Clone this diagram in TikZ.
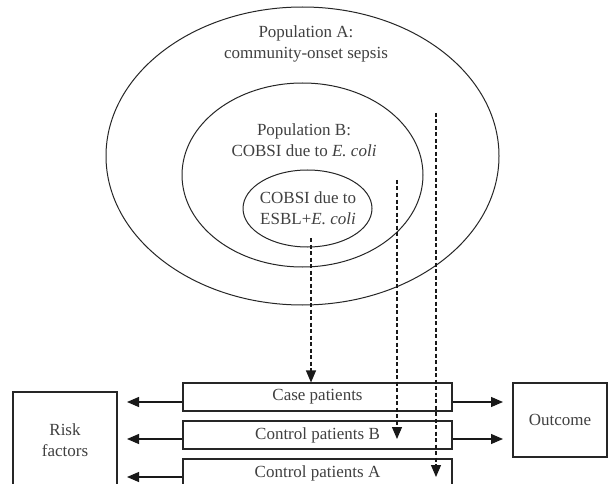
\documentclass[tikz,border=0pt]{standalone}
\usepackage{fontspec}
\setmainfont{Liberation Serif}
\usetikzlibrary{shapes.geometric,arrows.meta}
\begin{document}
\begin{tikzpicture}[x=1pt,y=-1pt,
  every node/.style={font=\fontsize{17}{21}\selectfont, text=black!75},
  ring/.style={draw=black!85, ellipse, line width=1pt, inner sep=0pt},
  boxnode/.style={draw=black!85, rectangle, line width=1.1pt, inner sep=0pt},
  solidarrow/.style={-{Triangle[length=12pt,width=10pt]}, line width=1.1pt, draw=black!90},
  dasharrow/.style={-{Triangle[length=12pt,width=10pt]}, line width=1.1pt, draw=black!90, dash pattern=on 4pt off 2.5pt}
]
\clip (0,0) rectangle (608,484);
\fill[white] (0,0) rectangle (608,484);
% populations
\node[ring, minimum width=393pt, minimum height=298pt] (popA) at (302.5,156) {};
\node[ring, minimum width=241pt, minimum height=184pt] (popB) at (302.5,175) {};
\node[ring, minimum width=129pt, minimum height=77pt] (esbl) at (307.5,208.5) {};
\node[align=center] (tA) at (306,44) {Population A:\\community-onset sepsis};
\node[align=center] (tB) at (304,140) {Population B:\\COBSI due to \textit{E. coli}};
\node[align=center] (tC) at (308,208) {COBSI due to\\ESBL+\textit{E. coli}};
% boxes
\node[boxnode, minimum width=269pt, minimum height=28pt] (case) at (317.5,397) {Case patients};
\node[boxnode, minimum width=269pt, minimum height=28pt] (ctrlB) at (317.5,435) {Control patients B};
\node[boxnode, minimum width=269pt, minimum height=28pt] (ctrlA) at (317.5,473) {Control patients A};
\node[boxnode, minimum width=104pt, minimum height=96pt, align=center] (risk) at (65,440) {Risk\\factors};
\node[boxnode, minimum width=94pt, minimum height=74pt] (out) at (560,420) {Outcome};
% solid arrows
\coordinate (l1) at (127,402);
\coordinate (l2) at (127,439);
\coordinate (l3) at (127,477);
\draw[solidarrow] (case.west |- l1) -- (l1);
\draw[solidarrow] (ctrlB.west |- l2) -- (l2);
\draw[solidarrow] (ctrlA.west |- l3) -- (l3);
\coordinate (o1) at (503,402);
\coordinate (o2) at (503,439);
\draw[solidarrow] (case.east |- o1) -- (o1);
\draw[solidarrow] (ctrlB.east |- o2) -- (o2);
% dashed arrows
\coordinate (s1) at (311,238);
\coordinate (s2) at (397,180);
\coordinate (e2) at (397,439);
\coordinate (s3) at (436,113);
\coordinate (e3) at (436,477);
\draw[dasharrow] (s1) -- (s1 |- case.north);
\draw[dasharrow] (s2) -- (e2);
\draw[dasharrow] (s3) -- (e3);
\end{tikzpicture}
\end{document}
